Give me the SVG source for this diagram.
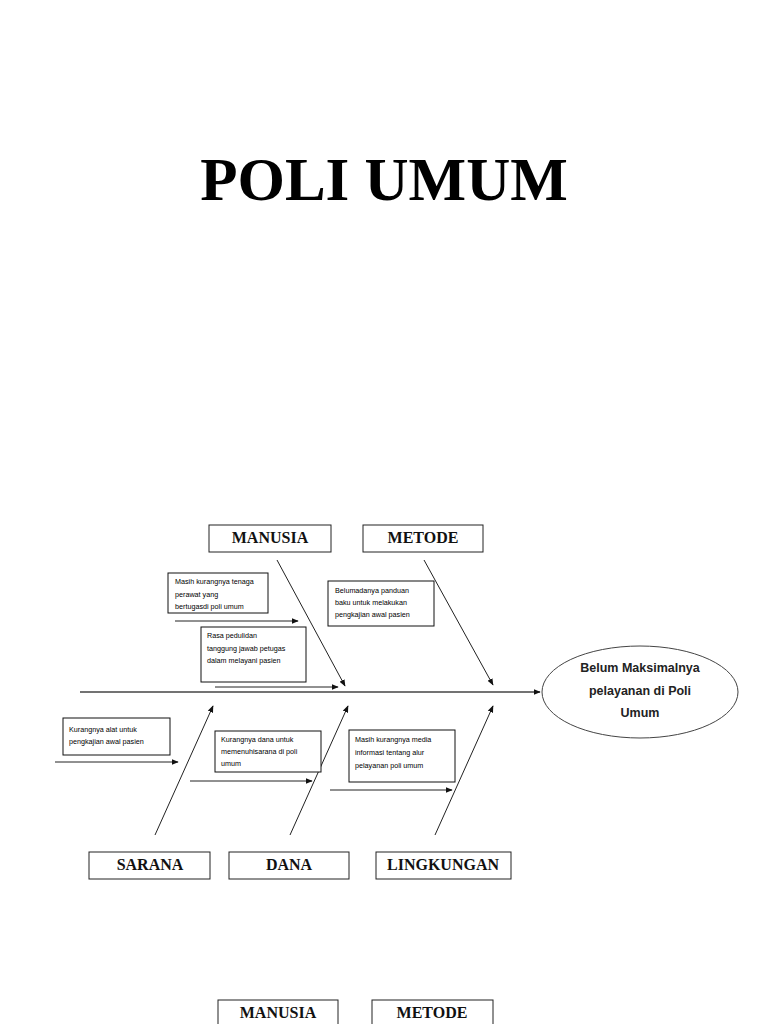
<svg xmlns="http://www.w3.org/2000/svg" width="768" height="1024" viewBox="0 0 768 1024">
<style>
.bg{fill:#fff}
.lbl{fill:#fff;stroke:#222;stroke-width:1}
.lt{font-family:"Liberation Serif",serif;font-weight:bold;font-size:16px;fill:#111;text-anchor:middle}
.sb{fill:#fff;stroke:#111;stroke-width:1}
.st{font-family:"Liberation Sans",Arial,sans-serif;font-size:7.2px;fill:#000}
.ln{stroke:#222;stroke-width:1;fill:none;marker-end:url(#ah)}
.et{font-family:"Liberation Sans",Arial,sans-serif;font-weight:bold;font-size:12.5px;fill:#222;text-anchor:middle}
</style>
<defs>
<marker id="ah" viewBox="0 0 10 10" refX="9" refY="5" markerWidth="7" markerHeight="7" markerUnits="userSpaceOnUse" orient="auto">
<path d="M0,1 L10,5 L0,9 z" fill="#111"/>
</marker>
</defs>
<rect class="bg" x="0" y="0" width="768" height="1024"/>
<text x="384" y="200" font-family="Liberation Serif,serif" font-weight="bold" font-size="61" text-anchor="middle" fill="#000">POLI UMUM</text>

<g id="connectors">
<line class="ln" x1="80" y1="692" x2="540" y2="692" style="stroke:#444;stroke-width:1.3"/>
<line class="ln" x1="277" y1="560" x2="345" y2="686"/>
<line class="ln" x1="424" y1="560" x2="493" y2="685"/>
<line class="ln" x1="155" y1="835" x2="213" y2="706"/>
<line class="ln" x1="290" y1="835" x2="348" y2="706"/>
<line class="ln" x1="435" y1="835" x2="493" y2="706"/>
<line class="ln" x1="175" y1="621" x2="298" y2="621"/>
<line class="ln" x1="215" y1="687" x2="338" y2="687"/>
<line class="ln" x1="55" y1="762" x2="178" y2="762"/>
<line class="ln" x1="190" y1="781" x2="312" y2="781"/>
<line class="ln" x1="330" y1="790" x2="452" y2="790"/>
</g>

<g id="manusia"><rect class="lbl" x="209" y="525" width="122" height="27"/><text class="lt" x="270" y="543">MANUSIA</text></g>
<g id="metode"><rect class="lbl" x="363" y="525" width="120" height="27"/><text class="lt" x="423" y="543">METODE</text></g>
<g id="sarana"><rect class="lbl" x="89" y="852" width="121" height="27"/><text class="lt" x="150" y="870">SARANA</text></g>
<g id="dana"><rect class="lbl" x="229" y="852" width="120" height="27"/><text class="lt" x="289" y="870">DANA</text></g>
<g id="lingkungan"><rect class="lbl" x="376" y="852" width="135" height="27"/><text class="lt" x="443" y="870">LINGKUNGAN</text></g>
<g id="manusia2"><rect class="lbl" x="218" y="1000" width="120" height="40"/><text class="lt" x="278" y="1018">MANUSIA</text></g>
<g id="metode2"><rect class="lbl" x="372" y="1000" width="121" height="40"/><text class="lt" x="432" y="1018">METODE</text></g>

<g id="effect">
<ellipse cx="640" cy="692" rx="98" ry="46" fill="#fff" stroke="#444" stroke-width="1"/>
<text class="et" x="640" y="672">Belum Maksimalnya</text>
<text class="et" x="640" y="695">pelayanan di Poli</text>
<text class="et" x="640" y="717">Umum</text>
</g>

<g id="cause1"><rect class="sb" x="168" y="573" width="100" height="40"/>
<text class="st" x="175" y="584">Masih kurangnya tenaga</text>
<text class="st" x="175" y="597">perawat yang</text>
<text class="st" x="175" y="609">bertugasdi poli umum</text></g>
<g id="cause2"><rect class="sb" x="328" y="581" width="106" height="45"/>
<text class="st" x="335" y="593">Belumadanya panduan</text>
<text class="st" x="335" y="605">baku untuk melakukan</text>
<text class="st" x="335" y="617">pengkajian awal pasien</text></g>
<g id="cause3"><rect class="sb" x="201" y="627" width="105" height="55"/>
<text class="st" x="207" y="638">Rasa pedulidan</text>
<text class="st" x="207" y="651">tanggung jawab petugas</text>
<text class="st" x="207" y="663">dalam melayani pasien</text></g>
<g id="cause4"><rect class="sb" x="63" y="718" width="107" height="37"/>
<text class="st" x="69" y="732">Kurangnya alat untuk</text>
<text class="st" x="69" y="744">pengkajian awal pasien</text></g>
<g id="cause5"><rect class="sb" x="215" y="731" width="106" height="41"/>
<text class="st" x="221" y="742">Kurangnya dana untuk</text>
<text class="st" x="221" y="754">memenuhisarana di poli</text>
<text class="st" x="221" y="766">umum</text></g>
<g id="cause6"><rect class="sb" x="349" y="730" width="106" height="52"/>
<text class="st" x="355" y="742">Masih kurangnya media</text>
<text class="st" x="355" y="755">informasi tentang alur</text>
<text class="st" x="355" y="768">pelayanan poli umum</text></g>
</svg>
